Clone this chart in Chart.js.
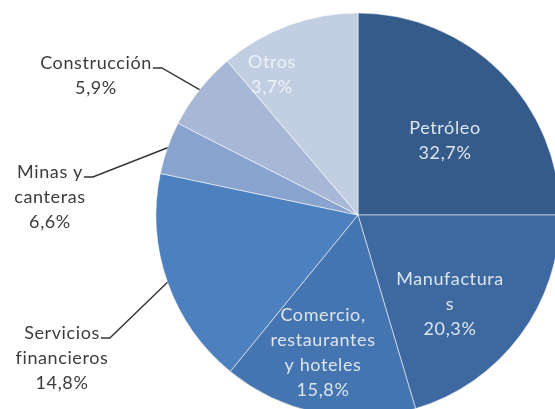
<!DOCTYPE html>
<html>
<head>
<meta charset="utf-8">
<script src="https://cdn.jsdelivr.net/npm/chart.js@4.4.1/dist/chart.umd.min.js"></script>
<style>
  html, body { margin: 0; padding: 0; background: #ffffff; overflow: hidden; }
  #wrap { position: relative; width: 555px; height: 409px; }
</style>
</head>
<body>
<div id="wrap"><canvas id="c" width="555" height="409"></canvas></div>
<script>
// Sectors, clockwise from 12 o'clock
const categories = ["Petróleo", "Manufacturas", "Comercio, restaurantes y hoteles", "Servicios financieros", "Minas y canteras", "Construcción", "Otros"];
const sliceShares = [25.0, 20.4, 15.5, 17.4, 4.2, 6.3, 11.2];
// Percentages printed on the chart
const printedPercent = ["32,7%", "20,3%", "15,8%", "14,8%", "6,6%", "5,9%", "3,7%"];
// Label text lines as printed
const labelLines = [
  ["Petróleo", "32,7%"],
  ["Manufactura", "s", "20,3%"],
  ["Comercio,", "restaurantes", "y hoteles", "15,8%"],
  ["Servicios", "financieros", "14,8%"],
  ["Minas y", "canteras", "6,6%"],
  ["Construcción", "5,9%"],
  ["Otros", "3,7%"]
];
const colors = ["#355b8a", "#3d68a0", "#4575b0", "#4c80bf", "#89a3cf", "#a7b8d6", "#c2cee2"];

// Label layout (text block centre x, first line middle y)
const labelPos = [
  {x: 445, y: 128, inside: true, color: "#dde5ef"},
  {x: 450, y: 279, inside: true, color: "#dde5ef"},
  {x: 323, y: 315, inside: true, color: "#dde5ef"},
  {x: 62,  y: 333, inside: false, color: "#3c3c3c"},
  {x: 50,  y: 172, inside: false, color: "#3c3c3c"},
  {x: 96,  y: 63,  inside: false, color: "#3c3c3c"},
  {x: 272, y: 62,  inside: true, color: "#eef2f8"}
];
const lineGap = 25;

const labelPlugin = {
  id: "pieLabels",
  afterDatasetsDraw(chart) {
    const ctx = chart.ctx;
    const meta = chart.getDatasetMeta(0);
    ctx.save();
    ctx.font = "18px Lato, 'Open Sans', sans-serif";
    ctx.letterSpacing = "0.6px";
    ctx.textAlign = "center";
    ctx.textBaseline = "middle";
    meta.data.forEach((arc, i) => {
      const p = labelPos[i];
      const lines = labelLines[i];
      ctx.fillStyle = p.color;
      lines.forEach((t, k) => ctx.fillText(t, p.x, p.y + k * lineGap));
      if (!p.inside) {
        const w = ctx.measureText(lines[0]).width;
        const sx = p.x + w / 2 + 1;
        const sy = p.y + 5;
        const mid = (arc.startAngle + arc.endAngle) / 2;
        const ex = arc.x + Math.cos(mid) * arc.outerRadius;
        const ey = arc.y + Math.sin(mid) * arc.outerRadius;
        ctx.beginPath();
        ctx.strokeStyle = "#333333";
        ctx.lineWidth = 1.4;
        ctx.moveTo(sx, sy);
        ctx.lineTo(sx + 9, sy);
        ctx.lineTo(ex, ey);
        ctx.stroke();
      }
    });
    ctx.restore();
  }
};

new Chart(document.getElementById("c"), {
  type: "pie",
  data: {
    labels: categories,
    datasets: [{
      data: sliceShares,
      backgroundColor: colors,
      borderColor: "rgba(255,255,255,0.55)",
      borderWidth: 1,
      clip: false
    }]
  },
  options: {
    responsive: false,
    animation: false,
    radius: 202,
    layout: { padding: { left: 161, right: 0, top: 21, bottom: 0 } },
    plugins: { legend: { display: false }, tooltip: { enabled: false } }
  },
  plugins: [labelPlugin]
});
</script>
</body>
</html>
